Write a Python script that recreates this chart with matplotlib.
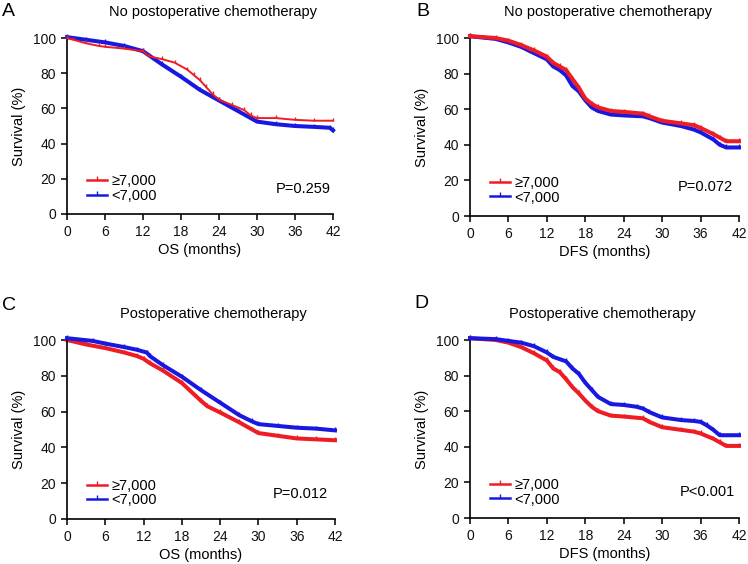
import matplotlib
matplotlib.use("Agg")
from matplotlib import pyplot as plt

plt.rcParams['font.family'] = ['Liberation Sans', 'DejaVu Sans']

RED = '#ee1c24'
BLUE = '#1818e0'

# Panel A - OS, no postoperative chemotherapy
a_hi_t = [0, 1, 3, 5, 6, 9, 12, 13, 15, 17, 19, 20, 21, 22, 23, 24, 26, 28, 29, 30, 33, 36, 39, 42]
a_hi_s = [100, 99, 97, 95.5, 95, 94, 92.5, 89.5, 88, 86, 82, 79, 76, 72, 68, 65, 62, 59, 56, 54.5, 54.5, 53.5, 53, 53]
a_lo_t = [0, 3, 6, 9, 12, 13, 15, 18, 21, 24, 27, 30, 33, 36, 39, 41.5, 42]
a_lo_s = [100.5, 99, 97.5, 95.5, 92.5, 90, 85, 78, 70.5, 64.5, 58.5, 52.5, 51, 50, 49.5, 49, 47.5]

# Panel B - DFS, no postoperative chemotherapy
b_hi_t = [0, 4, 6, 8, 10, 12, 13, 14, 15, 16, 17, 18, 19, 20, 22, 24, 27, 28, 30, 33, 35, 36, 38, 39, 40, 42]
b_hi_s = [101, 100, 98.5, 96, 93, 89.5, 86, 84, 82, 77, 72, 66, 63, 61, 59, 58.5, 57.5, 56, 53.5, 52, 51, 49.5, 46, 44, 42, 42]
b_lo_t = [0, 4, 6, 8, 10, 12, 13, 14, 15, 16, 17, 18, 19, 20, 22, 24, 27, 28, 30, 33, 35, 36, 38, 39, 40, 42]
b_lo_s = [101, 99.5, 97.5, 95, 91.5, 88, 84, 82, 79, 73, 70, 65, 61, 59, 57, 56.5, 56, 55, 52.5, 50.5, 48.5, 47, 43, 40, 38.5, 38.5]

# Panel C - OS, postoperative chemotherapy
c_hi_t = [0, 3, 6, 9, 11, 12, 13, 15, 18, 21, 22, 24, 27, 29, 30, 33, 36, 39, 42]
c_hi_s = [100, 97.5, 95.5, 93, 91, 89.5, 87, 83, 76, 66, 63, 59.5, 54, 50, 48, 46.5, 45, 44.5, 44]
c_lo_t = [0, 4, 6, 9, 11, 12.5, 13, 15, 18, 21, 24, 27, 29, 30, 33, 36, 39, 42]
c_lo_s = [101, 99.5, 98, 96, 94.5, 93, 91, 86, 79.5, 72, 65, 58, 54.5, 53, 52, 51, 50.5, 49.5]

# Panel D - DFS, postoperative chemotherapy
d_hi_t = [0, 4, 6, 8, 10, 12, 13, 14, 15, 16, 17, 18, 19, 20, 22, 24, 27, 28, 30, 33, 35, 36, 38, 39, 40, 42]
d_hi_s = [101, 100, 98.5, 96, 92.5, 88.5, 84, 82, 78, 73.5, 70, 66, 62.5, 60, 57.5, 57, 56, 54, 51, 49.5, 48.5, 47.5, 44.5, 42.5, 40.5, 40.5]
d_lo_t = [0, 4, 6, 8, 10, 12, 13, 15, 16, 17, 18, 19, 20, 22, 24, 26, 27, 28, 30, 33, 35, 36, 37, 38, 39, 42]
d_lo_s = [101, 100.5, 99.5, 98.5, 96.5, 93, 90.5, 88, 84, 81, 76, 72, 68, 64, 63.5, 62.5, 61.5, 59.5, 56.5, 55, 54.5, 54, 52, 49.5, 46.5, 46.5]

# letter, title, x label, p text, curves, axes box in px (left, bottom, right, top),
# red line width, title x shift (px), letter offsets (px), p-value position
panels = [
    ('A', 'No postoperative chemotherapy', 'OS (months)', 'P=0.259',
     a_hi_t, a_hi_s, a_lo_t, a_lo_s, [67, 214, 333, 38], 1.4, 13, (-65, 26), (41.7, 14.2)),
    ('B', 'No postoperative chemotherapy', 'DFS (months)', 'P=0.072',
     b_hi_t, b_hi_s, b_lo_t, b_lo_s, [470, 216, 739, 38], 2.9, 4, (-54, 27), (41.1, 16.3)),
    ('C', 'Postoperative chemotherapy', 'OS (months)', 'P=0.012',
     c_hi_t, c_hi_s, c_lo_t, c_lo_s, [67, 519, 335, 340], 2.9, 12, (-65, 35), (40.9, 14.0)),
    ('D', 'Postoperative chemotherapy', 'DFS (months)', 'P<0.001',
     d_hi_t, d_hi_s, d_lo_t, d_lo_s, [470, 518, 739, 340], 2.9, -2, (-56, 36), (41.4, 14.6)),
]

W, H = 748, 564
fig = plt.figure(figsize=(W / 100, H / 100), dpi=100)

for (letter, title, xlab, pval, th, sh, tl, sl, box, red_lw,
     tshift, loff, ppos) in panels:
    x0, y0, x1, y1 = box
    aw, ah = x1 - x0, y0 - y1
    ax = fig.add_axes([x0 / W, 1 - y0 / H, aw / W, ah / H])

    ax.plot(tl, sl, color=BLUE, lw=2.9, marker=2, ms=2.5, mew=1,
            clip_on=False, label='<7,000', zorder=3)
    ax.plot(th, sh, color=RED, lw=red_lw, marker=2, ms=2.5, mew=1,
            clip_on=False, label='\u22657,000', zorder=4 if letter in 'AB' else 2)

    ax.set_xlim(0, 42)
    ax.set_ylim(0, 100)
    ax.set_xticks(range(0, 43, 6))
    ax.set_yticks(range(0, 101, 20))
    ax.spines['top'].set_visible(False)
    ax.spines['right'].set_visible(False)
    ax.spines['left'].set_linewidth(1.2)
    ax.spines['bottom'].set_linewidth(1.2)
    ax.tick_params(labelsize=10, width=1.2, length=4, pad=4, colors='#111111')
    ax.set_xlabel(xlab, fontsize=10.5, labelpad=3)
    ax.set_ylabel('Survival (%)', fontsize=10.5, labelpad=5)

    handles, labels = ax.get_legend_handles_labels()
    ax.legend(handles[::-1], labels[::-1], loc='center left',
              bbox_to_anchor=(0.075, 0.145), frameon=False, fontsize=10.5,
              handlelength=1.35, handletextpad=0.3, labelspacing=0.05,
              numpoints=1, borderpad=0, borderaxespad=0)
    for ln in ax.get_legend().get_lines():
        ln.set_linewidth(1.8)
        ln.set_markersize(3)

    ax.text(ppos[0], ppos[1], pval, fontsize=10.5, ha='right', va='center')

    ax.text(0.5 + tshift / aw, 1.0 + 26 / ah, title, transform=ax.transAxes,
            ha='center', va='center', fontsize=10.5)
    ax.text(loff[0] / aw, 1.0 + loff[1] / ah, letter, transform=ax.transAxes,
            ha='left', va='center', fontsize=14)

fig.savefig('out.png', dpi=100)
